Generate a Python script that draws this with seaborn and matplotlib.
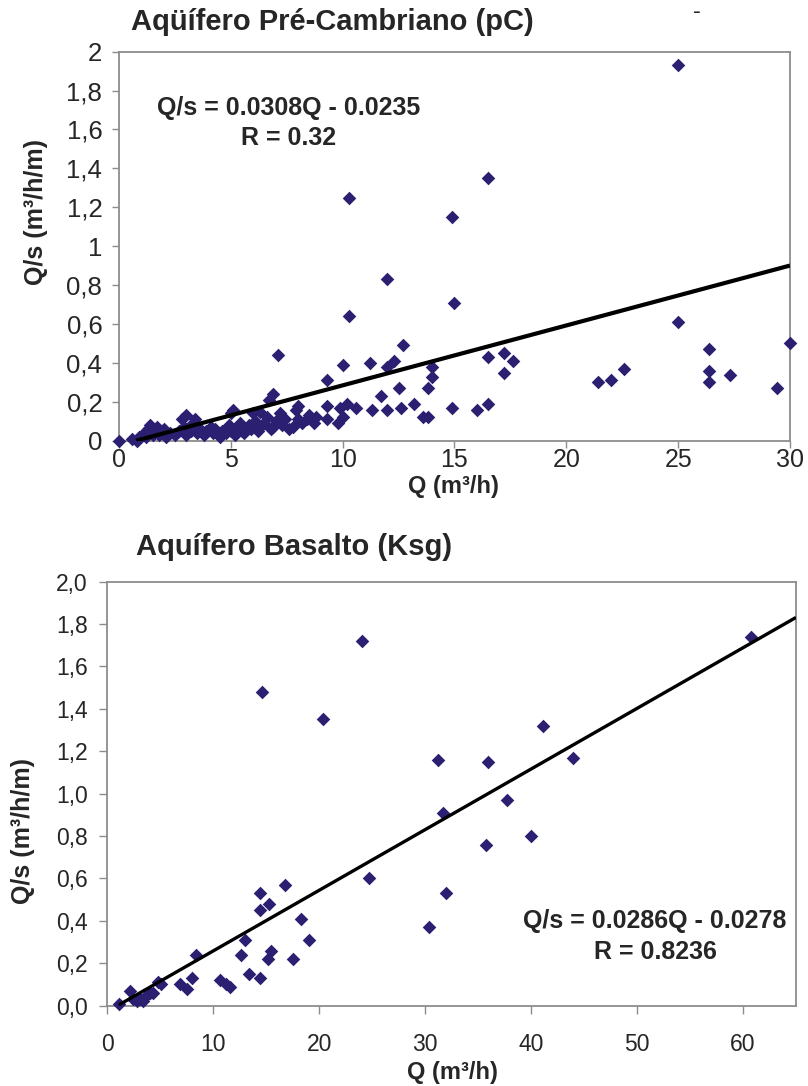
import numpy as np
import pandas as pd
import matplotlib
matplotlib.use('Agg')
import matplotlib.pyplot as plt
import seaborn as sns
from matplotlib.ticker import FixedLocator, FuncFormatter

# Data
# Aquifero Pre-Cambriano (pC)
q_pc = [0.0, 0.6, 0.8, 0.9, 1.1, 1.2, 1.3, 1.4, 1.5, 1.6, 1.7, 1.8, 1.9, 2.0, 2.1,
        2.3, 2.5, 2.7, 2.8, 2.9, 3.0, 3.0, 3.2, 3.3, 3.4, 3.5, 3.6, 3.8, 3.9, 4.1,
        4.2, 4.3, 4.5, 4.6, 4.8, 4.9, 5.0, 5.0,
        5.1, 5.2, 5.3, 5.4, 5.5, 5.6, 5.8, 5.9, 6.0, 6.1, 6.2, 6.3, 6.4, 6.5, 6.6,
        6.7, 6.8, 6.9, 6.9, 7.0, 7.1, 7.2, 7.3, 7.4, 7.6, 7.8, 7.9, 8.0, 8.0, 8.2,
        8.4, 8.5, 8.7, 8.8,
        9.3, 9.3, 9.3, 9.8, 9.9, 10.0, 10.0, 10.2, 10.3, 10.3, 10.6, 11.2, 11.3,
        11.7, 12.0, 12.0, 12.0, 12.3, 12.5, 12.6, 12.7, 13.2, 13.6, 13.8, 13.8,
        14.0, 14.0, 14.9, 14.9, 15.0, 16.0, 16.5, 16.5, 16.5, 17.2, 17.2, 17.6,
        21.4, 22.0, 22.6, 25.0, 25.0, 26.4, 26.4, 26.4, 27.3, 29.4, 30.0]
qs_pc = [0.00, 0.01, 0.00, 0.02, 0.04, 0.02, 0.06, 0.08, 0.03, 0.05, 0.07, 0.03, 0.05, 0.06, 0.02,
         0.04, 0.03, 0.05, 0.11, 0.07, 0.13, 0.03, 0.05, 0.09, 0.11, 0.04, 0.06, 0.03, 0.05, 0.07,
         0.04, 0.06, 0.02, 0.05, 0.04, 0.08, 0.14, 0.05,
         0.16, 0.03, 0.07, 0.09, 0.05, 0.04, 0.08, 0.06, 0.14, 0.10, 0.05, 0.15, 0.08, 0.09, 0.12,
         0.21, 0.06, 0.24, 0.07, 0.10, 0.44, 0.14, 0.08, 0.11, 0.06, 0.07, 0.16, 0.18, 0.11, 0.09,
         0.11, 0.13, 0.09, 0.12,
         0.31, 0.18, 0.11, 0.09, 0.17, 0.39, 0.12, 0.19, 0.64, 1.25, 0.17, 0.40, 0.16,
         0.23, 0.83, 0.38, 0.16, 0.41, 0.27, 0.17, 0.49, 0.19, 0.12, 0.12, 0.27,
         0.33, 0.38, 1.15, 0.17, 0.71, 0.16, 1.35, 0.43, 0.19, 0.45, 0.35, 0.41,
         0.30, 0.31, 0.37, 1.93, 0.61, 0.47, 0.36, 0.30, 0.34, 0.27, 0.50]

# Aquifero Basalto (Ksg)
q_ksg = [1.1, 2.1, 2.4, 2.8, 3.1, 3.4, 3.6, 4.0, 4.35, 4.8, 5.1, 6.9, 7.5, 8.0, 8.4,
         10.6, 11.2, 11.6, 12.6, 13.0, 13.4, 14.4, 14.4, 14.4, 14.6, 15.2, 15.3, 15.45,
         16.8, 17.55, 18.3, 19.0, 20.4, 24.0, 24.7, 30.4, 31.2, 31.65, 32.0, 35.7,
         35.96, 37.7, 40.0, 41.15, 44.0, 60.8]
qs_ksg = [0.01, 0.07, 0.03, 0.02, 0.03, 0.02, 0.04, 0.06, 0.06, 0.11, 0.10, 0.10, 0.08, 0.13, 0.24,
          0.12, 0.10, 0.09, 0.24, 0.31, 0.15, 0.13, 0.45, 0.53, 1.48, 0.22, 0.48, 0.26,
          0.57, 0.22, 0.41, 0.31, 1.35, 1.72, 0.60, 0.37, 1.16, 0.91, 0.53, 0.76,
          1.15, 0.97, 0.80, 1.32, 1.17, 1.74]

# regression lines (from the equations printed on the chart)
fit_pc = (0.0308, -0.0235, 0.76, 30.0)
fit_ksg = (0.0286, -0.0278, 1.1, 65.0)

pc = pd.DataFrame({'Q': q_pc, 'Qs': qs_pc})
ksg = pd.DataFrame({'Q': q_ksg, 'Qs': qs_ksg})

sns.set_style('white')
plt.rcParams['font.family'] = ['Liberation Sans', 'DejaVu Sans']

navy = '#2B1F72'
grey = '#8C8C8C'

fig = plt.figure(figsize=(8.08, 10.86), dpi=100)
ax1 = fig.add_axes([0.1473, 0.5942, 0.8304, 0.3582])
ax2 = fig.add_axes([0.1328, 0.0740, 0.8523, 0.3904])


def comma(v, pos, fmt):
    return (fmt % v).replace('.', ',')


def style_axes(ax, xsize, ysize, xpad, ypad, tlen=6):
    for sp in ax.spines.values():
        sp.set_color(grey)
        sp.set_linewidth(1.3)
    ax.tick_params(axis='both', direction='out', length=tlen, width=1.0, color=grey,
                   bottom=True, left=True)
    ax.tick_params(axis='x', labelsize=xsize, pad=xpad)
    ax.tick_params(axis='y', labelsize=ysize, pad=ypad)
    ax.set_xlabel('')
    ax.set_ylabel('')


# top chart
sns.scatterplot(data=pc, x='Q', y='Qs', ax=ax1, marker='D', s=48, color=navy,
                linewidth=0, zorder=3, clip_on=False)
a, b, x0, x1 = fit_pc
xl = np.array([x0, x1])
ax1.plot(xl, a * xl + b, color='black', lw=3.0, zorder=4, solid_capstyle='butt')
ax1.set_xlim(0, 30)
ax1.set_ylim(0, 2)
ax1.xaxis.set_major_locator(FixedLocator([0, 5, 10, 15, 20, 25, 30]))
ax1.yaxis.set_major_locator(FixedLocator(np.arange(0, 2.01, 0.2)))
ax1.yaxis.set_major_formatter(FuncFormatter(lambda v, p: ('%g' % round(v, 1)).replace('.', ',')))
style_axes(ax1, 18, 18.5, 0, 7, tlen=5)
ax1.text(7.6, 1.71, 'Q/s = 0.0308Q - 0.0235', ha='center', va='center',
         fontsize=18, fontweight='bold')
ax1.text(7.6, 1.555, 'R = 0.32', ha='center', va='center', fontsize=18, fontweight='bold')

# bottom chart
sns.scatterplot(data=ksg, x='Q', y='Qs', ax=ax2, marker='D', s=48, color=navy,
                linewidth=0, zorder=3, clip_on=False)
a, b, x0, x1 = fit_ksg
xl = np.array([x0, x1])
ax2.plot(xl, a * xl + b, color='black', lw=2.4, zorder=4, solid_capstyle='butt')
ax2.set_xlim(0, 65)
ax2.set_ylim(0, 2)
ax2.xaxis.set_major_locator(FixedLocator([0, 10, 20, 30, 40, 50, 60]))
ax2.yaxis.set_major_locator(FixedLocator(np.arange(0, 2.01, 0.2)))
ax2.yaxis.set_major_formatter(FuncFormatter(lambda v, p: comma(v, p, '%.1f')))
style_axes(ax2, 16.5, 16.5, 14, 8)
ax2.text(51.7, 0.40, 'Q/s = 0.0286Q - 0.0278', ha='center', va='center',
         fontsize=18, fontweight='bold')
ax2.text(51.7, 0.252, 'R = 0.8236', ha='center', va='center', fontsize=18, fontweight='bold')

# titles and axis labels
fig.text(332 / 808, 1 - 22 / 1086, 'Aqüífero Pré-Cambriano (pC)', ha='center', va='center',
         fontsize=21, fontweight='bold')
fig.text(697 / 808, 1 - 12 / 1086, '-', ha='center', va='center', fontsize=17)
fig.text(294 / 808, 1 - 547 / 1086, 'Aquífero Basalto (Ksg)', ha='center', va='center',
         fontsize=21, fontweight='bold')
fig.text(453 / 808, 1 - 486 / 1086, 'Q (m³/h)', ha='center', va='center',
         fontsize=17, fontweight='bold')
fig.text(452 / 808, 1 - 1073 / 1086, 'Q (m³/h)', ha='center', va='center',
         fontsize=17, fontweight='bold')
fig.text(36 / 808, 1 - 212 / 1086, 'Q/s (m³/h/m)', ha='center', va='center', rotation=90,
         fontsize=18, fontweight='bold')
fig.text(23 / 808, 1 - 831 / 1086, 'Q/s (m³/h/m)', ha='center', va='center', rotation=90,
         fontsize=18, fontweight='bold')

fig.savefig('out.png', dpi=100, facecolor='white')
